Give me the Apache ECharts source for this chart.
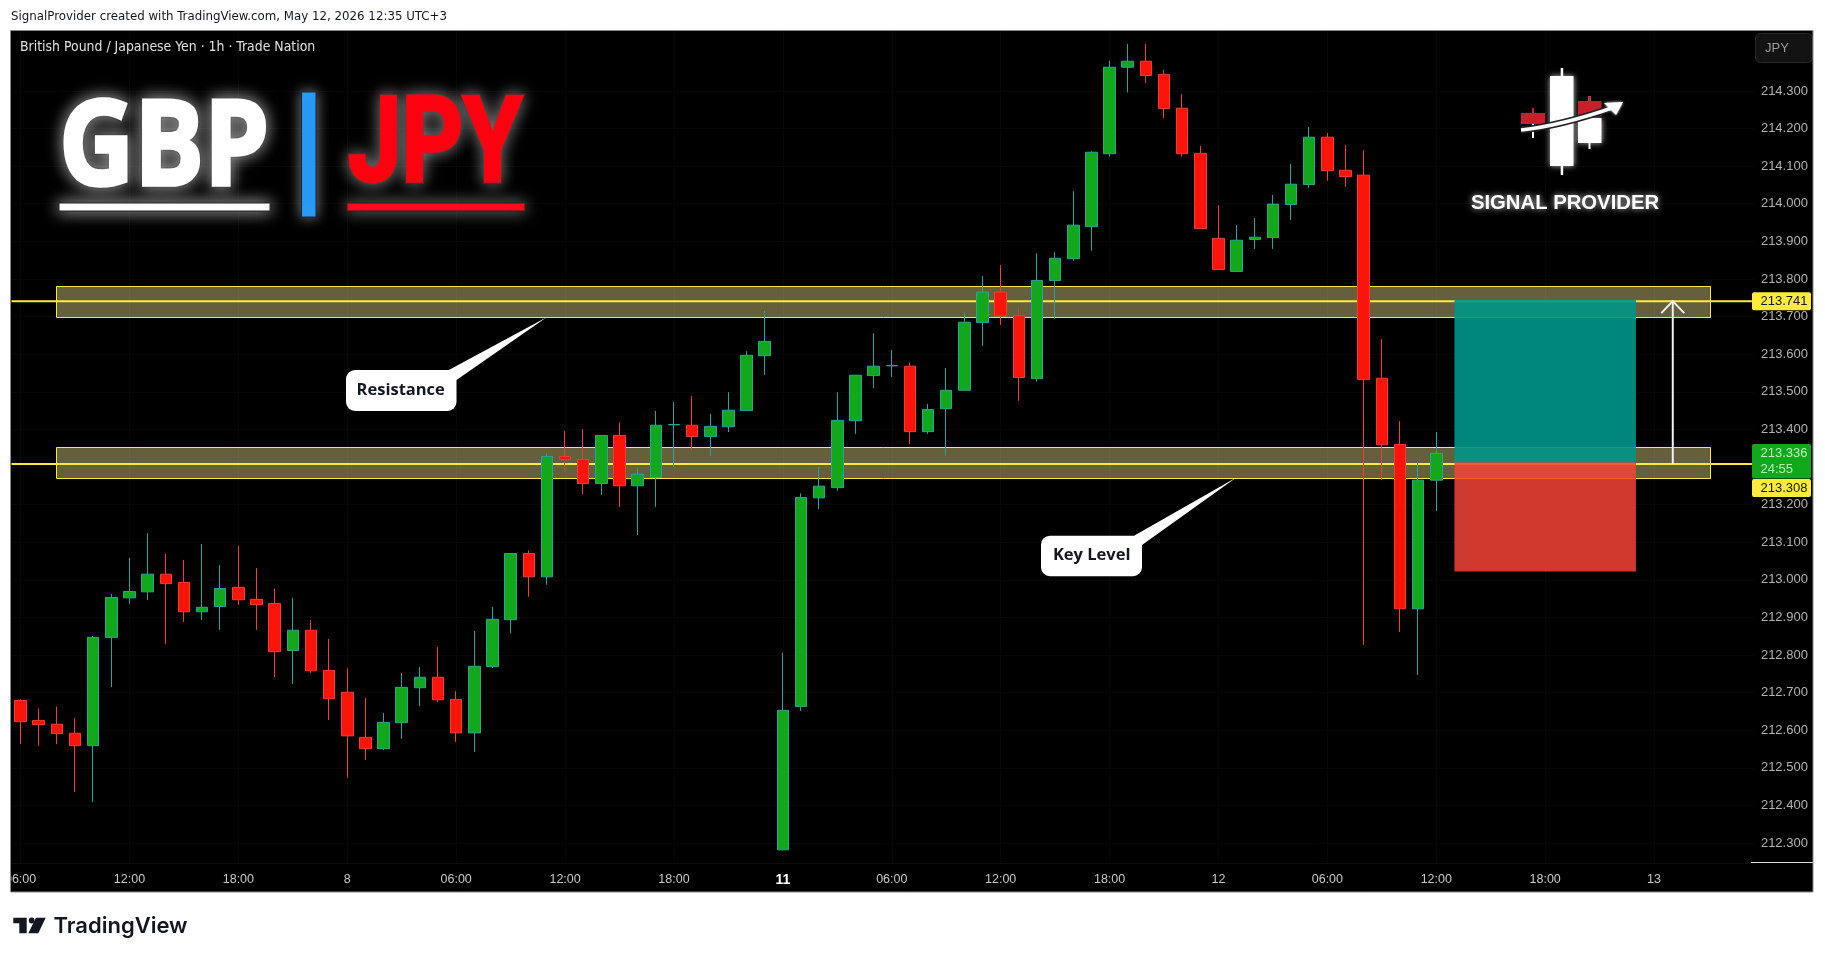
<!DOCTYPE html>
<html>
<head>
<meta charset="utf-8">
<title>GBP/JPY</title>
<style>
html, body { margin: 0; padding: 0; background: #fff; }
#main { width: 1825px; height: 959px; }
</style>
<script src="https://cdn.jsdelivr.net/npm/echarts@6/dist/echarts.min.js"></script>
</head>
<body>
<div id="main"></div>
<script>
// hourly candles
var opens = [212.679,212.626,212.616,212.592,212.559,212.847,212.952,212.968,213.015,212.993,212.915,212.929,212.980,212.948,212.937,212.812,212.866,212.759,212.701,212.581,212.551,212.620,212.713,212.741,212.682,212.593,212.769,212.894,213.070,213.008,213.328,213.320,213.256,213.384,213.250,213.272,213.412,213.411,213.381,213.407,213.450,213.596,212.282,212.663,213.218,213.245,213.423,213.543,213.569,213.568,213.394,213.455,213.504,213.684,213.765,213.702,213.535,213.796,213.854,213.939,214.133,214.363,214.379,214.344,214.254,214.134,213.908,213.820,213.905,213.910,213.998,214.051,214.177,214.089,214.076,213.536,213.360,212.923,213.265];
var closes = [212.623,212.615,212.591,212.559,212.847,212.953,212.969,213.015,212.990,212.915,212.927,212.977,212.947,212.934,212.809,212.866,212.758,212.684,212.585,212.551,212.621,212.714,212.741,212.681,212.593,212.770,212.895,213.070,213.008,213.328,213.320,213.256,213.384,213.250,213.281,213.411,213.413,213.381,213.408,213.451,213.597,213.634,212.653,213.219,213.249,213.424,213.544,213.568,213.570,213.394,213.453,213.504,213.685,213.765,213.702,213.538,213.796,213.855,213.943,214.137,214.363,214.379,214.341,214.253,214.133,213.934,213.825,213.903,213.911,213.999,214.052,214.177,214.088,214.072,213.533,213.359,212.923,213.265,213.336];
var lows = [212.563,212.558,212.563,212.436,212.409,212.715,212.936,212.946,212.829,212.888,212.893,212.867,212.933,212.867,212.741,212.723,212.752,212.627,212.473,212.521,212.547,212.577,212.664,212.675,212.569,212.542,212.765,212.858,212.955,212.987,213.292,213.228,213.226,213.194,213.119,213.194,213.300,213.345,213.329,213.393,213.450,213.545,212.280,212.651,213.188,213.237,213.388,213.510,213.539,213.361,213.388,213.330,213.504,213.622,213.678,213.476,213.527,213.695,213.848,213.875,214.125,214.296,214.321,214.228,214.125,213.934,213.825,213.820,213.880,213.880,213.957,214.042,214.061,214.045,212.827,213.265,212.861,212.747,213.183];
var highs = [212.682,212.658,212.663,212.632,212.851,212.962,213.058,213.124,213.069,213.053,213.095,213.039,213.090,213.031,212.976,212.952,212.893,212.843,212.765,212.686,212.646,212.752,212.768,212.821,212.704,212.864,212.928,213.070,213.078,213.336,213.396,213.401,213.384,213.419,213.297,213.449,213.473,213.489,213.441,213.499,213.608,213.715,212.806,213.230,213.300,213.499,213.544,213.656,213.611,213.578,213.468,213.563,213.710,213.808,213.837,213.719,213.868,213.871,214.033,214.140,214.380,214.425,214.425,214.356,214.292,214.154,213.996,213.943,213.962,214.023,214.106,214.204,214.188,214.156,214.143,213.640,213.422,213.312,213.393];

var barSlots = 96;
var timeTicks = [0,6,12,18,24,30,36,42,48,54,60,66,72,78,84,90];
var timeLabels = ['06:00','12:00','18:00','8','06:00','12:00','18:00','11','06:00','12:00','18:00','12','06:00','12:00','18:00','13'];
var priceTicks = [212.3,212.4,212.5,212.6,212.7,212.8,212.9,213,213.1,213.2,213.3,213.4,213.5,213.6,213.7,213.8,213.9,214,214.1,214.2,214.3];
var priceMin = 212.247, priceMax = 214.462;

// [from bar, to bar, top price, bottom price]
var zones = [[1.95,93.07,213.781,213.698],[1.95,93.07,213.352,213.269]];
var levels = [[-0.5,95.39,213.741,213.741],[-0.5,95.39,213.308,213.308]];
var tradeBoxes = [[79,89,213.745,213.312],[79,89,213.312,213.022]];
var tradeArrow = [[91.03,91.03,213.741,213.308]];
// [price, colour, text colour, second line]
var priceTags = [[213.741,'#ffeb3b','#131722',''],[213.336,'#11a81c','#b9f2bb','24:55'],[213.308,'#ffeb3b','#131722','']];

var chart = echarts.init(document.getElementById('main'));
var slots = [];
for (var s = 0; s < barSlots; s++) slots.push(s);
var candles = opens.map(function (o, i) { return [o, closes[i], lows[i], highs[i]]; });

function zoneItem(params, api) {
    var a = api.coord([api.value(0), api.value(2)]);
    var b = api.coord([api.value(1), api.value(3)]);
    var x = Math.round(a[0]) + 0.5, y = Math.round(a[1]) + 0.5;
    return { type: 'rect', shape: { x: x, y: y, width: Math.round(b[0] - a[0]), height: Math.round(b[1] - a[1]) },
        style: { fill: 'rgba(255,238,150,0.4)', stroke: '#ffeb3b', lineWidth: 1 } };
}
function levelItem(params, api) {
    var a = api.coord([api.value(0), api.value(2)]);
    var b = api.coord([api.value(1), api.value(3)]);
    return { type: 'line', shape: { x1: a[0], y1: a[1], x2: b[0], y2: b[1] }, style: { stroke: '#ffeb3b', lineWidth: 2 } };
}
function tradeItem(params, api) {
    var a = api.coord([api.value(0), api.value(2)]);
    var b = api.coord([api.value(1), api.value(3)]);
    var fill = params.dataIndex === 0 ? 'rgba(0,150,136,0.9)' : 'rgba(244,67,54,0.85)';
    return { type: 'rect', shape: { x: a[0], y: a[1], width: b[0] - a[0], height: b[1] - a[1] }, style: { fill: fill } };
}
function arrowItem(params, api) {
    var a = api.coord([api.value(0), api.value(2)]);
    var b = api.coord([api.value(1), api.value(3)]);
    return { type: 'group', children: [
        { type: 'line', shape: { x1: a[0], y1: a[1], x2: b[0], y2: b[1] }, style: { stroke: '#f2f2f2', lineWidth: 2 } },
        { type: 'polyline', shape: { points: [[a[0] - 11.5, a[1] + 12], [a[0], a[1]], [a[0] + 11.5, a[1] + 12]] }, style: { stroke: '#f2f2f2', lineWidth: 2, fill: null } }
    ] };
}
function tagItem(params, api) {
    var y = api.coord([0, api.value(0)])[1];
    var t = priceTags[params.dataIndex];
    var two = t[3] !== '';
    var top = t[3] !== '' ? y - 9.5 : (t[0] === 213.308 ? y + 15 : y - 9);
    var children = [
        { type: 'rect', shape: { x: 1752, y: top, width: 59, height: two ? 34.5 : 18, r: 2 }, style: { fill: t[1] } },
        { type: 'text', style: { x: 1760.5, y: top + 9.5, text: t[0].toFixed(3), fill: t[2], font: '13px "Liberation Sans"', textVerticalAlign: 'middle' } }
    ];
    if (two) children.push({ type: 'text', style: { x: 1760.5, y: top + 25, text: t[3], fill: t[2], font: '13px "Liberation Sans"', textVerticalAlign: 'middle' } });
    return { type: 'group', children: children };
}

var option = {
    animation: false,
    backgroundColor: '#ffffff',
    title: [
        { text: 'SignalProvider created with TradingView.com, May 12, 2026 12:35 UTC+3', left: 11, top: 10,
          textStyle: { color: '#131722', fontSize: 13.15, fontWeight: 'normal', fontFamily: 'DejaVu Sans Condensed, Liberation Sans' }, padding: 0 },
        { text: 'British Pound / Japanese Yen · 1h · Trade Nation', left: 20, top: 40,
          textStyle: { color: '#e0e0e0', fontSize: 13.9, fontWeight: 'normal', fontFamily: 'DejaVu Sans Condensed, Liberation Sans' }, padding: 0 }
    ],
    grid: { left: 11.5, top: 30, width: 1742.4, height: 833 },
    xAxis: [
        { type: 'category', data: slots, show: false, boundaryGap: true },
        { type: 'value', min: -0.5, max: 95.5, position: 'bottom',
          axisLine: { show: true, onZero: false, lineStyle: { color: '#0d0d0d' } },
          axisTick: { show: false, customValues: timeTicks },
          splitLine: { show: true, lineStyle: { color: '#070707' } },
          axisLabel: { customValues: timeTicks, margin: 10, color: '#c8c8c8', fontSize: 12.5, fontFamily: 'Liberation Sans',
              formatter: function (v) {
                  var l = timeLabels[timeTicks.indexOf(v)];
                  return l === '11' ? '{day|11}' : l;
              },
              rich: { day: { color: '#ffffff', fontSize: 14, fontWeight: 'bold', fontFamily: 'Liberation Sans' } } } }
    ],
    yAxis: {
        type: 'value', min: priceMin, max: priceMax, position: 'right', scale: true,
        axisLine: { show: false },
        axisTick: { show: false, customValues: priceTicks },
        splitLine: { show: true, lineStyle: { color: '#070707' } },
        axisLabel: { customValues: priceTicks, margin: 7, color: '#b2b2b2', fontSize: 13, fontFamily: 'Liberation Sans', padding: [4, 0, 0, 0],
            formatter: function (v) { return v.toFixed(3); } }
    },
    series: [
        { type: 'custom', name: 'zones', xAxisIndex: 1, z: 1, silent: true, clip: false, data: zones, renderItem: zoneItem, encode: { x: [0, 1], y: [2, 3] } },
        { type: 'custom', name: 'levels', xAxisIndex: 1, z: 1, silent: true, clip: false, data: levels, renderItem: levelItem, encode: { x: [0, 1], y: [2, 3] } },
        { type: 'custom', name: 'trade', xAxisIndex: 1, z: 1, silent: true, clip: false, data: tradeBoxes, renderItem: tradeItem, encode: { x: [0, 1], y: [2, 3] } },
        { type: 'candlestick', name: 'GBPJPY', xAxisIndex: 0, z: 2, silent: true, clip: false, barWidth: 12, data: candles,
          itemStyle: { color: '#11a81c', color0: '#fa140a', borderColor: '#26a69a', borderColor0: '#f23d33', borderColorDoji: '#26a69a', borderWidth: 1 } },
        { type: 'custom', name: 'arrow', xAxisIndex: 1, z: 3, silent: true, clip: false, data: tradeArrow, renderItem: arrowItem, encode: { x: [0, 1], y: [2, 3] } },
        { type: 'custom', name: 'tags', xAxisIndex: 1, z: 5, silent: true, clip: false, data: priceTags.map(function (t) { return [t[0]]; }), renderItem: tagItem, encode: { y: 0 } }
    ],
    graphic: { elements: [
        // frame
        { type: 'rect', z: -10, shape: { x: 10.5, y: 30.5, width: 1802.5, height: 861.5 }, style: { fill: '#000000' } },
        { type: 'rect', z: 100, shape: { x: 0, y: 860, width: 10.5, height: 40 }, style: { fill: '#ffffff' } },
        { type: 'rect', z: 101, shape: { x: 10.5, y: 30.5, width: 1802.5, height: 861.5 }, style: { fill: null, stroke: '#8a8a8a', lineWidth: 1 } },
        { type: 'line', z: 1, shape: { x1: 1751, y1: 862.5, x2: 1813, y2: 862.5 }, style: { stroke: '#dddddd', lineWidth: 1 } },
        // currency button
        { type: 'rect', z: 10, shape: { x: 1755.5, y: 33.5, width: 57, height: 29, r: 5 }, style: { fill: '#131313', stroke: '#2a2a2a', lineWidth: 1 } },
        { type: 'text', z: 11, style: { x: 1765, y: 48.5, text: 'JPY', fill: '#9a9a9a', font: '13px "Liberation Sans"', textVerticalAlign: 'middle' } },
        // pair heading, glow and dark edge below, heavier letter on top
        { type: 'text', z: 20, x: 59, y: 151, scaleX: 0.88, style: { x: 0, y: 0, text: 'GBP', fill: '#222222', stroke: '#222222', lineWidth: 6, font: 'bold 118px "Open Sans"', textVerticalAlign: 'middle', textShadowBlur: 16, textShadowColor: 'rgba(255,255,255,0.55)' } },
        { type: 'text', z: 21, x: 59, y: 151, scaleX: 0.88, style: { x: 0, y: 0, text: 'GBP', fill: '#ffffff', stroke: '#ffffff', lineWidth: 3.5, font: 'bold 118px "Open Sans"', textVerticalAlign: 'middle' } },
        { type: 'text', z: 20, x: 348, y: 151, scaleX: 0.81, style: { x: 0, y: 0, text: 'JPY', fill: '#222222', stroke: '#222222', lineWidth: 6, font: 'bold 118px Roboto', textVerticalAlign: 'middle', textShadowBlur: 16, textShadowColor: 'rgba(255,255,255,0.4)' } },
        { type: 'text', z: 21, x: 348, y: 151, scaleX: 0.81, style: { x: 0, y: 0, text: 'JPY', fill: '#ff0010', stroke: '#ff0010', lineWidth: 3.5, font: 'bold 118px Roboto', textVerticalAlign: 'middle' } },
        { type: 'rect', z: 20, shape: { x: 59, y: 203, width: 211, height: 8 }, style: { fill: '#ffffff', stroke: '#222222', lineWidth: 1, shadowBlur: 16, shadowColor: 'rgba(255,255,255,0.8)' } },
        { type: 'rect', z: 20, shape: { x: 347, y: 203, width: 178, height: 8 }, style: { fill: '#ff0010', stroke: '#222222', lineWidth: 1, shadowBlur: 16, shadowColor: 'rgba(255,255,255,0.5)' } },
        { type: 'rect', z: 20, shape: { x: 301.5, y: 92, width: 14.5, height: 125 }, style: { fill: '#2196f3', stroke: '#12263a', lineWidth: 1, shadowBlur: 14, shadowColor: 'rgba(255,255,255,0.5)' } },
        // provider badge
        { type: 'rect', z: 20, shape: { x: 1560.7, y: 68, width: 2.5, height: 107 }, style: { fill: '#ffffff' } },
        { type: 'rect', z: 20, shape: { x: 1550, y: 76, width: 23.5, height: 90 }, style: { fill: '#ffffff', shadowBlur: 6, shadowColor: 'rgba(255,255,255,0.7)' } },
        { type: 'rect', z: 20, shape: { x: 1532, y: 108, width: 2, height: 30 }, style: { fill: '#ffffff' } },
        { type: 'rect', z: 20, shape: { x: 1532, y: 108, width: 2, height: 6 }, style: { fill: '#c8202a' } },
        { type: 'rect', z: 20, shape: { x: 1521, y: 113, width: 24, height: 11 }, style: { fill: '#c8202a' } },
        { type: 'rect', z: 20, shape: { x: 1588.5, y: 96, width: 2, height: 53 }, style: { fill: '#ffffff' } },
        { type: 'rect', z: 21, shape: { x: 1588.5, y: 96, width: 2, height: 6 }, style: { fill: '#c8202a' } },
        { type: 'rect', z: 20, shape: { x: 1578, y: 118, width: 23.5, height: 25 }, style: { fill: '#ffffff', shadowBlur: 6, shadowColor: 'rgba(255,255,255,0.7)' } },
        { type: 'rect', z: 21, shape: { x: 1578, y: 101, width: 23.5, height: 15 }, style: { fill: '#c8202a' } },
        { type: 'bezierCurve', z: 22, shape: { x1: 1521, y1: 130, cpx1: 1560, cpy1: 126, x2: 1615, y2: 107 }, style: { stroke: '#222222', lineWidth: 7, fill: null } },
        { type: 'bezierCurve', z: 23, shape: { x1: 1521, y1: 130, cpx1: 1560, cpy1: 126, x2: 1615, y2: 107 }, style: { stroke: '#ffffff', lineWidth: 3.5, fill: null } },
        { type: 'polygon', z: 23, shape: { points: [[1623, 102], [1604, 103], [1616, 115]] }, style: { fill: '#ffffff', shadowBlur: 3, shadowColor: '#ffffff' } },
        { type: 'text', z: 20, style: { x: 1565, y: 203, text: 'SIGNAL PROVIDER', fill: '#ffffff', font: 'bold 20.3px "Liberation Sans"', textAlign: 'center', textVerticalAlign: 'middle', textShadowBlur: 6, textShadowColor: 'rgba(255,255,255,0.8)' } },
        // callouts
        { type: 'polygon', z: 30, shape: { points: [[447, 371], [546.7, 317.3], [456.5, 380]] }, style: { fill: '#ffffff' } },
        { type: 'rect', z: 30, shape: { x: 346, y: 370, width: 110.5, height: 41, r: 9 }, style: { fill: '#ffffff' } },
        { type: 'text', z: 31, style: { x: 400.7, y: 390, text: 'Resistance', fill: '#131722', font: 'bold 16.5px "Open Sans"', textAlign: 'center', textVerticalAlign: 'middle' } },
        { type: 'polygon', z: 30, shape: { points: [[1132.7, 536.5], [1236.7, 477.3], [1142, 545]] }, style: { fill: '#ffffff' } },
        { type: 'rect', z: 30, shape: { x: 1041, y: 535.7, width: 101, height: 40.5, r: 9 }, style: { fill: '#ffffff' } },
        { type: 'text', z: 31, style: { x: 1091.7, y: 555, text: 'Key Level', fill: '#131722', font: 'bold 16.5px "Open Sans"', textAlign: 'center', textVerticalAlign: 'middle' } },
        // watermark logo
        { type: 'polygon', z: 5, shape: { points: [[13.3, 917.7], [26.7, 917.7], [26.7, 933.3], [19.3, 933.3], [19.3, 923.3], [13.3, 923.3]] }, style: { fill: '#131722' } },
        { type: 'circle', z: 5, shape: { cx: 31.7, cy: 920.5, r: 2.9 }, style: { fill: '#131722' } },
        { type: 'polygon', z: 5, shape: { points: [[36, 917.7], [45.7, 917.7], [38.3, 933.3], [28.3, 933.3]] }, style: { fill: '#131722' } },
        { type: 'text', z: 5, style: { x: 53.5, y: 926, text: 'TradingView', fill: '#131722', font: '600 22px Inter', textVerticalAlign: 'middle' } }
    ] }
};
chart.setOption(option);
</script>
</body>
</html>
